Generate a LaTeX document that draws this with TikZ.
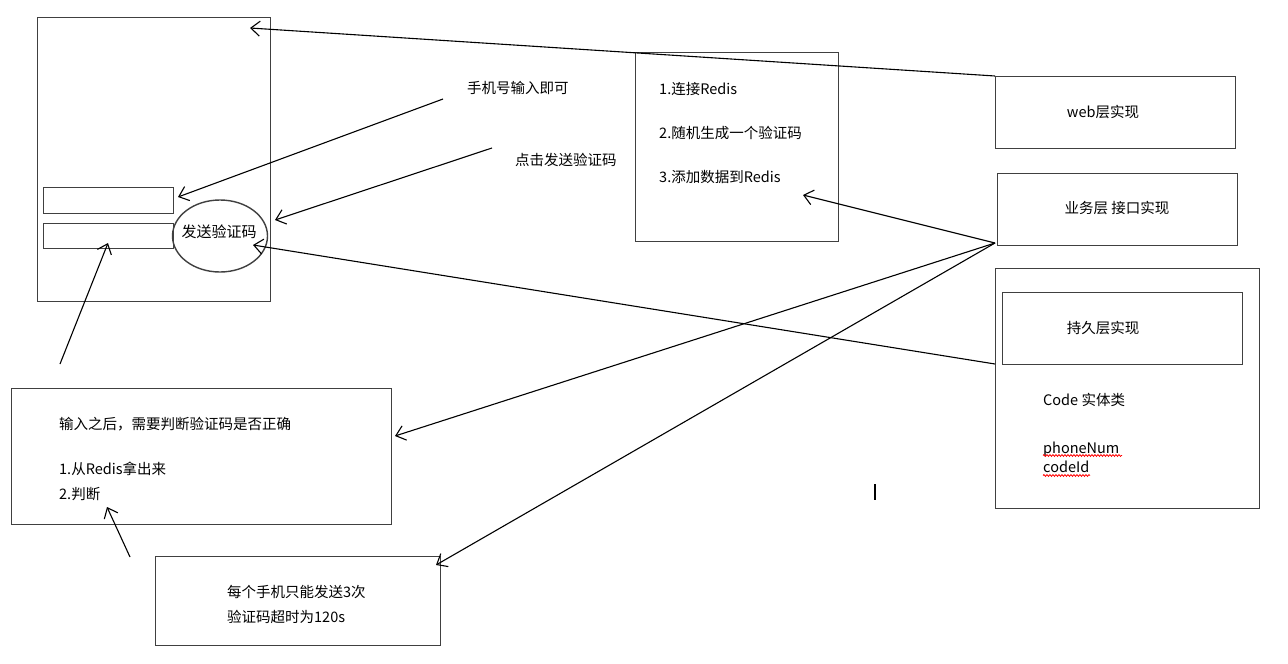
\documentclass[tikz,border=0pt]{standalone}
\usepackage{fontspec}
\setmainfont{Noto Sans CJK SC}
\usetikzlibrary{arrows.meta,decorations.pathmorphing,shapes.geometric}
\definecolor{boxgray}{HTML}{404040}
\begin{document}
\begin{tikzpicture}[x=1pt,y=-1pt,
  box/.style={draw=boxgray, line width=1.4pt, inner sep=0pt, anchor=north west},
  txt/.style={inner sep=0pt, anchor=west, font=\fontsize{14.5}{17}\selectfont},
  conn/.style={draw=black, line width=1.1pt, -{Straight Barb[length=9pt,width=15pt,line width=1.1pt]}},
  squig/.style={draw=red, line width=0.8pt, decorate, decoration={snake, amplitude=0.9pt, segment length=3pt}}]
\useasboundingbox (0,0) rectangle (1288,664);
% phone mockup
\node[box, minimum width=233pt, minimum height=284pt] (phone) at (37,17) {};
\node[box, minimum width=130pt, minimum height=26pt] (field1) at (43,187) {};
\node[box, minimum width=130pt, minimum height=25pt] (field2) at (43,223) {};
\node[draw=boxgray, line width=1.4pt, ellipse, minimum width=95pt, minimum height=72pt, inner sep=0pt] (sendbtn) at (220,236) {};
\node[inner sep=0pt, font=\fontsize{15}{18}\selectfont] (sendtxt) at (219,232) {发送验证码};
% labels
\node[txt] (lphone) at (467,88) {手机号输入即可};
\node[txt] (lclick) at (515,160) {点击发送验证码};
% middle box
\node[box, minimum width=203pt, minimum height=189pt] (redisbox) at (635,52) {};
\node[txt] (r1) at (659,89) {1.连接Redis};
\node[txt] (r2) at (659,133) {2.随机生成一个验证码};
\node[txt] (r3) at (659,177) {3.添加数据到Redis};
% right boxes
\node[box, minimum width=240pt, minimum height=72pt] (web) at (995,76) {};
\node[txt, anchor=center] (webt) at (1103,112) {web层实现};
\node[box, minimum width=240pt, minimum height=72pt] (svc) at (997,173) {};
\node[txt, anchor=center] (svct) at (1117,208) {业务层 接口实现};
\node[box, minimum width=264pt, minimum height=240pt] (dao) at (995,268) {};
\node[box, minimum width=240pt, minimum height=72pt] (daoin) at (1002,292) {};
\node[txt, anchor=center] (daot) at (1103,328) {持久层实现};
\node[txt] (code) at (1043,400) {Code 实体类};
\node[txt] (pn) at (1043,449) {phoneNum};
\node[txt] (ci) at (1043,467) {codeId};
\coordinate (pnU) at (1043,455.5);
\coordinate (ciU) at (1043,475.5);
\draw[squig] (pnU) -- ++(79,0);
\draw[squig] (ciU) -- ++(47,0);
% bottom-left box
\node[box, minimum width=380pt, minimum height=136pt] (check) at (11,388) {};
\node[txt] (c1) at (59,424) {输入之后，需要判断验证码是否正确};
\node[txt] (c2) at (59,469) {1.从Redis拿出来};
\node[txt] (c3) at (59,494) {2.判断};
% bottom box
\node[box, minimum width=285pt, minimum height=89pt] (limit) at (155,556) {};
\node[txt] (l1) at (227,592) {每个手机只能发送3次};
\node[txt] (l2) at (227,617) {验证码超时为120s};
% stray mark
\draw[line width=1.1pt] (875,484) -- (875,500);
% connector endpoints
\coordinate (webA) at (995,76);
\coordinate (phoneTop) at (250,28);
\coordinate (lphoneA) at (443,99);
\coordinate (field1R) at (178,197);
\coordinate (lclickA) at (492,148);
\coordinate (sendR) at (275,220);
\coordinate (daoL) at (995,364);
\coordinate (sendIn) at (253,245);
\coordinate (svcL) at (995,243);
\coordinate (redisIn) at (803,195);
\coordinate (checkR) at (395,436);
\coordinate (limitR) at (436,565);
\coordinate (checkTop) at (60,364);
\coordinate (field2B) at (108,243);
\coordinate (limitTop) at (130,557);
\coordinate (checkB) at (107,507);
% connectors
\draw[conn] (webA) -- (phoneTop);
\draw[conn] (lphoneA) -- (field1R);
\draw[conn] (lclickA) -- (sendR);
\draw[conn] (daoL) -- (sendIn);
\draw[conn] (svcL) -- (redisIn);
\draw[conn] (svcL) -- (checkR);
\draw[conn] (svcL) -- (limitR);
\draw[conn] (checkTop) -- (field2B);
\draw[conn] (limitTop) -- (checkB);
\end{tikzpicture}
\end{document}
